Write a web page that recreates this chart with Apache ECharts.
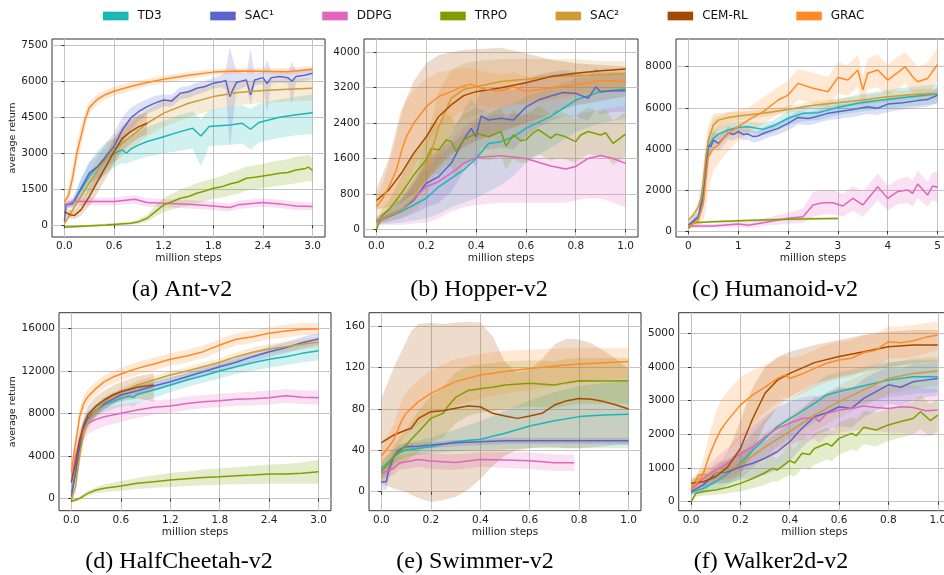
<!DOCTYPE html>
<html lang="en">
<head>
<meta charset="utf-8">
<title>Learning curves</title>
<script src="https://cdn.jsdelivr.net/npm/echarts@6.0.0/dist/echarts.min.js"></script>
<style>
    html, body { margin: 0; padding: 0; background: #fff; }
    #main { width: 944px; height: 575px; }
</style>
</head>
<body>
<div id="main"></div>
<script>
// algorithms, in legend order
var names = ['TD3', 'SAC\u00b9', 'DDPG', 'TRPO', 'SAC\u00b2', 'CEM-RL', 'GRAC'];
var colors = ['#1ab7b4', '#5b64cb', '#e066be', '#7f9f00', '#d09a35', '#a34b00', '#ff8a26'];

// rows: [million steps, mean return, lower band, upper band]
// ---- (a) Ant-v2
var antTD3 = [[0,850,780,920],[0.1,920,750,1100],[0.2,1470,1000,1950],[0.3,2030,1400,2650],[0.4,2440,1800,3100],[0.5,2790,2150,3450],[0.6,3000,2400,3600],[0.7,3140,2600,3700],[0.75,3000,2550,3500],[0.8,3170,2650,3700],[0.9,3350,2750,3900],[1.0,3490,2850,4100],[1.2,3690,3000,4350],[1.4,3900,3100,4600],[1.55,4040,3200,4750],[1.65,3720,2450,4400],[1.75,4110,3300,4800],[2.0,4180,3350,4950],[2.15,4250,3400,5000],[2.25,4000,3150,4850],[2.35,4280,3450,5050],[2.6,4500,3650,5250],[2.8,4600,3750,5350],[3.0,4690,3800,5450]];
var antSAC1 = [[0,150,50,300],[0.02,830,700,950],[0.1,900,750,1050],[0.2,1540,1200,1900],[0.3,2170,1750,2600],[0.4,2440,1950,2950],[0.5,2860,2350,3400],[0.6,3280,2700,3850],[0.7,3970,3400,4500],[0.8,4460,3950,4900],[0.9,4740,4350,5100],[1.0,4945,4650,5250],[1.1,5100,4800,5400],[1.2,5220,4950,5450],[1.3,5180,4950,5450],[1.4,5500,5250,5750],[1.5,5560,5300,5800],[1.6,5710,5450,5950],[1.7,5780,5550,6000],[1.8,5920,5700,6150],[1.9,5980,5750,6250],[1.95,6030,5650,6500],[2.0,5360,3200,7400],[2.03,5600,4200,7000],[2.08,5950,5600,6400],[2.2,6056,5800,6300],[2.25,5430,5000,7350],[2.3,6050,5800,6300],[2.4,6150,5900,6400],[2.45,5900,4700,6900],[2.5,6150,5900,6400],[2.6,6200,5950,6450],[2.7,6150,5900,6400],[2.75,6000,5050,6800],[2.8,6200,5950,6450],[2.9,6250,6000,6500],[3.0,6330,6100,6550]];
var antDDPG = [[0,780,600,950],[0.1,990,800,1150],[0.3,990,830,1150],[0.6,990,820,1160],[0.85,1080,900,1250],[1.0,945,770,1120],[1.2,920,750,1090],[1.5,875,700,1050],[1.8,805,630,980],[2.0,740,570,910],[2.1,850,680,1020],[2.4,945,770,1120],[2.6,890,720,1060],[2.8,805,630,980],[3.0,780,620,950]];
var antTRPO = [[0,-80,-130,-30],[0.5,15,-40,70],[0.8,80,20,140],[0.9,150,60,250],[1.0,290,150,450],[1.1,570,350,800],[1.2,850,550,1150],[1.3,980,650,1300],[1.4,1125,750,1500],[1.5,1200,800,1600],[1.6,1330,900,1750],[1.7,1430,1000,1850],[1.8,1540,1100,1950],[1.9,1600,1150,2050],[2.0,1720,1250,2200],[2.1,1800,1300,2300],[2.2,1960,1450,2450],[2.3,2000,1500,2500],[2.4,2050,1550,2550],[2.5,2100,1600,2650],[2.6,2170,1650,2700],[2.7,2200,1700,2750],[2.8,2300,1750,2850],[2.9,2350,1800,2900],[2.95,2420,1850,2950],[3.0,2280,1800,2800]];
var antSAC2 = [[0,80,0,200],[0.1,640,400,900],[0.2,1190,850,1550],[0.3,1750,1300,2200],[0.4,2300,1800,2800],[0.5,2720,2200,3250],[0.6,3140,2600,3700],[0.8,3690,3150,4250],[1.0,4250,3700,4800],[1.2,4670,4100,5200],[1.5,5080,4500,5600],[1.8,5360,4800,5850],[2.1,5530,5000,6000],[2.4,5610,5100,6050],[2.7,5670,5150,6100],[3.0,5710,5200,6150]];
var antCEM = [[0,570,400,750],[0.06,450,300,650],[0.12,400,250,600],[0.2,640,400,900],[0.3,1190,800,1600],[0.4,1820,1350,2300],[0.5,2440,1950,2950],[0.6,3070,2550,3600],[0.7,3620,3100,4150],[0.8,3900,3400,4400],[0.9,4110,3650,4600],[1.0,4250,3800,4700]];
var antGRAC = [[0,950,800,1100],[0.05,1250,950,1600],[0.1,2000,1600,2450],[0.15,3000,2550,3450],[0.2,3700,3250,4150],[0.25,4400,4050,4750],[0.3,4900,4650,5150],[0.4,5250,5050,5450],[0.5,5450,5250,5650],[0.6,5580,5380,5780],[0.8,5780,5600,5960],[1.0,5950,5800,6100],[1.2,6080,5930,6230],[1.5,6250,6100,6400],[1.8,6380,6260,6500],[2.1,6430,6310,6550],[2.4,6420,6300,6540],[2.7,6400,6250,6550],[3.0,6500,6380,6620]];

// ---- (b) Hopper-v2
var hopTD3 = [[0,170,100,250],[0.1,400,150,700],[0.2,700,250,1400],[0.25,960,350,1650],[0.3,1150,500,1900],[0.35,1340,600,2150],[0.4,1600,700,2400],[0.45,1940,850,2600],[0.5,1980,1000,2750],[0.55,2090,1200,2850],[0.6,2280,1500,3000],[0.7,2550,1850,3200],[0.8,2920,2200,3400],[0.9,3110,2400,3500],[1.0,3170,2500,3550]];
var hopSAC1 = [[0,200,120,280],[0.1,440,250,650],[0.15,660,350,1000],[0.2,1040,500,1600],[0.25,1190,600,1800],[0.3,1490,850,2150],[0.35,2020,1300,2700],[0.38,2280,1550,2950],[0.4,2090,1400,2800],[0.42,2560,1850,3200],[0.45,2470,1800,3150],[0.5,2510,1850,3200],[0.55,2470,1800,3150],[0.6,2760,2100,3350],[0.65,2920,2300,3500],[0.7,3010,2450,3550],[0.75,3090,2550,3600],[0.8,3070,2550,3550],[0.85,2960,2450,3450],[0.88,3220,2700,3650],[0.9,3110,2600,3550],[0.95,3130,2650,3550],[1.0,3130,2650,3550]];
var hopDDPG = [[0,170,100,250],[0.1,440,100,750],[0.2,960,150,1500],[0.25,1080,250,1750],[0.3,1270,400,2000],[0.35,1490,500,2300],[0.4,1620,550,2500],[0.5,1660,600,2600],[0.6,1600,600,2600],[0.7,1430,600,2550],[0.76,1360,600,2550],[0.8,1420,650,2600],[0.85,1600,700,2650],[0.9,1665,700,2700],[0.95,1600,600,2750],[1.0,1490,500,2800]];
var hopTRPO = [[0,0,-50,50],[0.02,290,150,450],[0.05,440,250,650],[0.1,810,450,1200],[0.15,1230,750,1700],[0.2,1570,1050,2100],[0.22,1830,1250,2400],[0.25,1790,1250,2350],[0.28,2020,1450,2600],[0.3,1980,1400,2550],[0.32,1760,1200,2350],[0.35,2020,1450,2600],[0.4,2170,1600,2750],[0.45,2090,1550,2650],[0.5,2210,1650,2750],[0.52,1880,1350,2450],[0.55,2130,1600,2700],[0.58,2000,1500,2550],[0.6,2020,1500,2600],[0.63,2180,1650,2700],[0.65,2250,1700,2800],[0.7,2060,1550,2600],[0.72,2150,1600,2700],[0.75,2110,1600,2650],[0.8,1980,1500,2500],[0.82,2130,1600,2650],[0.85,2210,1700,2750],[0.9,2130,1650,2650],[0.92,2180,1650,2700],[0.95,1940,1450,2450],[1.0,2150,1650,2650]];
var hopSAC2 = [[0,200,100,300],[0.1,440,250,650],[0.15,700,400,1100],[0.2,1340,700,2000],[0.25,2320,1500,3100],[0.3,2960,2200,3600],[0.35,3160,2500,3750],[0.4,3220,2600,3800],[0.5,3340,2750,3850],[0.6,3390,2850,3850],[0.7,3450,2950,3850],[0.8,3470,3050,3850],[0.9,3490,3100,3800],[1.0,3510,3150,3800]];
var hopCEM = [[0,650,450,900],[0.05,890,500,1600],[0.1,1265,600,2700],[0.15,1720,800,3350],[0.2,2090,1100,3750],[0.25,2550,1400,3940],[0.3,2810,1700,4000],[0.35,3020,1850,4050],[0.4,3110,2000,4070],[0.5,3200,2200,4100],[0.6,3310,2400,3980],[0.7,3450,2600,3830],[0.8,3525,2800,3750],[0.9,3580,2900,3710],[1.0,3620,3000,3680]];
var hopGRAC = [[0,510,300,700],[0.03,740,400,1100],[0.05,960,450,1500],[0.08,1340,600,2100],[0.1,1755,800,2600],[0.12,2090,1000,2900],[0.15,2400,1400,3150],[0.2,2770,1900,3400],[0.25,3000,2300,3550],[0.3,3110,2500,3600],[0.35,3240,2700,3650],[0.38,3280,2800,3650],[0.4,3220,2800,3600],[0.45,3150,2750,3550],[0.5,3130,2750,3500],[0.55,3220,2850,3550],[0.6,3120,2800,3450],[0.7,3190,2900,3500],[0.8,3260,3000,3550],[0.9,3360,3100,3600],[1.0,3340,3100,3600]];

// ---- (c) Humanoid-v2
var humTD3 = [[0,210,100,300],[0.2,700,450,950],[0.3,2000,1300,2700],[0.35,3130,2400,3850],[0.4,4100,3500,4600],[0.5,4510,4100,4900],[0.6,4720,4400,5050],[0.8,4920,4600,5250],[1.0,5050,4750,5350],[1.2,5080,4800,5350],[1.5,4950,4650,5250],[1.7,5110,4800,5400],[2.0,5490,5150,5850],[2.3,5730,5350,6100],[2.6,5760,5400,6150],[3.0,6020,5650,6400],[3.4,6220,5800,6650],[3.8,6350,5900,6800],[4.2,6460,6000,6950],[4.6,6570,6100,7050],[5.0,6670,6200,7150]];
var humSAC1 = [[0,290,150,400],[0.2,700,450,950],[0.3,1670,1100,2300],[0.35,2970,2300,3650],[0.4,4190,3700,4650],[0.45,4100,3650,4550],[0.5,4430,4000,4850],[0.6,4270,3900,4650],[0.7,4510,4150,4850],[0.8,4790,4450,5100],[0.9,4700,4400,5000],[1.0,4840,4550,5150],[1.1,4700,4400,5000],[1.2,4720,4450,5000],[1.3,4600,4300,4900],[1.4,4630,4350,4900],[1.5,4750,4450,5050],[1.6,4840,4550,5150],[1.8,5000,4700,5300],[2.0,5240,4900,5550],[2.2,5530,5200,5850],[2.4,5480,5150,5800],[2.5,5530,5200,5850],[2.8,5730,5400,6050],[3.0,5810,5450,6150],[3.3,5920,5550,6250],[3.6,6050,5700,6400],[3.8,5980,5650,6300],[4.0,6180,5800,6500],[4.3,6250,5900,6600],[4.6,6350,6000,6700],[4.8,6400,6050,6750],[5.0,6620,6250,6950]];
var humDDPG = [[0,240,150,330],[0.5,240,150,330],[1.0,340,200,480],[1.2,280,150,420],[1.5,400,250,600],[2.0,620,350,900],[2.3,700,400,1100],[2.5,1270,700,1900],[2.7,1380,800,2000],[2.9,1380,800,2000],[3.1,1220,700,1800],[3.3,1590,1000,2200],[3.5,1270,700,1900],[3.8,2160,1500,2800],[4.0,1590,1000,2200],[4.2,1920,1300,2500],[4.4,2000,1350,2650],[4.5,1830,1200,2450],[4.6,2290,1600,2950],[4.8,1750,1200,2400],[4.9,2190,1500,2850],[5.0,2130,1400,2900]];
var humTRPO = [[0,130,80,180],[0.1,400,340,460],[0.5,450,390,510],[1.0,500,440,560],[1.5,535,475,595],[2.0,570,510,630],[2.5,600,540,660],[3.0,615,555,675]];
var humSAC2 = [[0,535,400,650],[0.1,780,600,950],[0.2,1180,900,1500],[0.25,1590,1100,2100],[0.3,2480,1700,3300],[0.35,3620,2700,4500],[0.4,4430,3600,5200],[0.5,5160,4600,5700],[0.6,5400,5000,5750],[0.8,5530,5250,5800],[1.0,5600,5400,5800],[1.5,5730,5550,5900],[2.0,5920,5750,6100],[2.5,6130,5950,6300],[3.0,6250,6050,6450],[3.5,6380,6150,6600],[4.0,6540,6300,6780],[4.5,6650,6400,6900],[5.0,6700,6450,6950]];
var humGRAC = [[0,210,100,350],[0.2,535,300,800],[0.3,1350,500,2300],[0.35,2480,1000,3700],[0.4,3620,2000,4800],[0.5,4030,2900,5500],[0.6,4190,3300,5600],[0.7,4510,3600,5700],[0.8,4760,3900,5800],[1.0,5080,4400,5900],[1.2,5400,4800,6000],[1.5,5810,5200,6500],[1.8,6380,5700,7000],[2.0,6620,5900,7300],[2.2,7190,6400,7900],[2.5,6950,6200,7700],[2.8,6780,6000,7500],[3.0,7480,6700,8200],[3.2,7350,6600,8100],[3.4,7840,7000,8600],[3.5,6870,6100,7600],[3.6,7680,6900,8400],[3.8,7840,7000,8600],[4.0,7350,6600,8100],[4.2,7710,6900,8500],[4.35,8000,7200,8700],[4.5,7510,6700,8300],[4.6,7270,6500,8000],[4.8,7430,6600,8200],[5.0,8110,7300,8900]];

// ---- (d) HalfCheetah-v2
var hcTD3 = [[0,560,200,900],[0.05,2380,1700,3100],[0.1,4730,3950,5500],[0.15,6450,5700,7200],[0.2,7390,6700,8100],[0.3,8270,7650,8900],[0.4,8800,8150,9450],[0.5,9110,8400,9800],[0.6,9420,8650,10200],[0.7,9640,8800,10450],[0.75,9490,8650,10300],[0.8,9800,8950,10600],[1.0,10210,9450,10950],[1.2,10680,10000,11350],[1.4,11150,10500,11800],[1.6,11550,10900,12200],[1.8,11990,11300,12650],[2.0,12400,11700,13100],[2.2,12770,12000,13500],[2.4,13090,12300,13850],[2.6,13340,12550,14150],[2.8,13650,12800,14450],[3.0,13900,13000,14700]];
var hcSAC1 = [[0,190,-200,600],[0.05,2380,1700,3100],[0.1,4880,4100,5650],[0.15,6760,6000,7500],[0.2,7550,6900,8200],[0.3,8330,7800,8850],[0.4,8950,8450,9450],[0.5,9330,8850,9800],[0.6,9740,9250,10200],[0.8,10140,9700,10600],[1.0,10580,10150,11000],[1.2,10990,10550,11400],[1.4,11460,11050,11850],[1.6,11930,11500,12350],[1.8,12400,11950,12850],[2.0,12810,12350,13250],[2.2,13340,12850,13800],[2.4,13810,13300,14300],[2.6,14180,13650,14700],[2.8,14650,14100,15200],[3.0,15000,14450,15550]];
var hcDDPG = [[0,1600,1000,2200],[0.05,3950,3100,4800],[0.1,5510,4600,6400],[0.15,6450,5500,7400],[0.2,7080,6100,8050],[0.3,7450,6500,8400],[0.4,7700,6800,8600],[0.6,8020,7200,8850],[0.8,8330,7600,9050],[1.0,8580,7900,9250],[1.2,8700,8050,9350],[1.4,8950,8300,9600],[1.6,9110,8500,9750],[1.8,9210,8600,9850],[2.0,9330,8700,9950],[2.2,9390,8750,10050],[2.4,9490,8850,10150],[2.6,9670,9000,10300],[2.8,9520,8900,10150],[3.0,9490,8850,10150]];
var hcTRPO = [[0,-250,-400,-100],[0.05,-130,-300,50],[0.1,30,-150,200],[0.2,500,250,750],[0.3,810,500,1100],[0.4,970,600,1350],[0.6,1190,750,1650],[0.8,1440,900,1950],[1.0,1600,1000,2200],[1.2,1750,1100,2400],[1.4,1880,1200,2550],[1.6,2000,1250,2750],[1.8,2070,1300,2850],[2.0,2160,1350,2950],[2.2,2220,1350,3100],[2.4,2320,1400,3200],[2.6,2320,1400,3250],[2.8,2380,1400,3400],[3.0,2540,1400,3650]];
var hcSAC2 = [[0,-130,-400,150],[0.05,1130,500,1800],[0.1,3950,3200,4700],[0.15,6140,5400,6900],[0.2,7230,6600,7900],[0.3,8330,7800,8850],[0.4,9110,8650,9550],[0.5,9580,9150,10000],[0.6,9960,9550,10350],[0.8,10680,10300,11050],[1.0,11150,10800,11500],[1.2,11620,11250,12000],[1.4,11990,11600,12350],[1.6,12400,12000,12800],[1.8,12810,12400,13200],[2.0,13340,12900,13750],[2.2,13750,13300,14200],[2.4,14060,13600,14500],[2.6,14280,13800,14750],[2.8,14500,14000,15000],[3.0,14720,14200,15200]];
var hcCEM = [[0,1500,900,2100],[0.05,3320,2500,4100],[0.1,5510,4700,6300],[0.15,6920,6100,7700],[0.2,7860,7000,8700],[0.3,8700,7800,9600],[0.4,9270,8400,10150],[0.5,9740,8850,10600],[0.6,10050,9150,10950],[0.8,10460,9400,11500],[1.0,10680,9100,11800]];
var hcGRAC = [[0,2440,1800,3100],[0.05,5200,4400,6000],[0.08,6600,5800,7400],[0.1,7700,6900,8500],[0.15,8950,8200,9700],[0.2,9580,8900,10300],[0.3,10360,9700,11000],[0.4,10990,10400,11600],[0.5,11400,10800,12000],[0.6,11710,11100,12300],[0.8,12240,11650,12850],[1.0,12650,12050,13250],[1.2,13090,12500,13650],[1.4,13400,12800,14000],[1.6,13810,13200,14400],[1.8,14430,13850,15000],[2.0,14970,14400,15550],[2.2,15220,14650,15800],[2.4,15530,14950,16100],[2.6,15750,15150,16350],[2.8,15910,15350,16500],[3.0,15940,15400,16500]];

// ---- (e) Swimmer-v2
var swTD3 = [[0,22.5,15,30],[0.05,33.8,27,41],[0.08,38.6,32,45],[0.1,40.3,34,47],[0.2,43.5,37,52],[0.3,48.3,39,60],[0.4,50.6,40,68],[0.5,56.4,41,78],[0.6,63.4,42,88],[0.7,68.6,42,96],[0.8,72.5,42,102],[0.9,74,42,105],[1.0,74.7,42,107]];
var swSAC1 = [[0,9.7,2,18],[0.02,9.7,2,20],[0.03,21,12,30],[0.05,33.8,27,40],[0.07,40.3,36,45],[0.1,43.5,40,47],[0.15,44,41,47],[0.2,45,42,48],[0.3,47.3,44,50],[0.4,48.3,45,51],[0.5,49.3,46,52],[0.7,49.3,46,52],[1.0,49.3,46,52]];
var swDDPG = [[0,17.7,12,24],[0.03,21,15,27],[0.05,22.5,16,29],[0.07,27.4,21,34],[0.1,29,22,36],[0.15,31.2,24,38],[0.2,29.6,22,37],[0.3,28.3,21,36],[0.4,31.2,24,38],[0.5,30.6,23,38],[0.6,30,22,38],[0.7,28,20,36],[0.78,28,20,36]];
var swTRPO = [[0,19.3,12,27],[0.03,27.4,18,37],[0.05,33.8,22,45],[0.08,40.3,27,54],[0.1,45,30,60],[0.15,58,38,78],[0.2,70.8,48,93],[0.25,75.7,52,100],[0.27,82.7,58,107],[0.3,91,66,115],[0.35,97.6,73,121],[0.4,99.5,76,123],[0.45,100.8,78,124],[0.5,103,80,126],[0.6,104.7,82,127],[0.7,103,81,126],[0.75,105.3,83,128],[0.8,107.2,85,129],[0.9,107,85,129],[1.0,107.2,85,129]];
var swCEM = [[0,47.3,8,90],[0.05,54.7,3,120],[0.1,59.6,0,145],[0.12,61,-3,155],[0.15,70.8,-6,162],[0.2,77.3,-10,163],[0.25,78.2,-8,162],[0.3,80.5,-5,163],[0.35,82.7,2,164],[0.4,82,12,163],[0.45,75.7,25,150],[0.5,73,35,125],[0.55,70.8,40,115],[0.6,73,42,118],[0.65,75.7,43,128],[0.7,83.7,43,142],[0.75,87.9,42,148],[0.8,90,42,147],[0.85,89.2,43,143],[0.9,87,44,136],[0.95,83.7,45,128],[1.0,79.8,45,118]];
var swGRAC = [[0,34.5,22,47],[0.03,43.5,30,57],[0.05,50,35,65],[0.06,56,40,72],[0.08,67.6,48,87],[0.1,75.7,55,96],[0.15,87,65,108],[0.2,95,72,117],[0.25,100.8,78,123],[0.3,106.3,83,128],[0.4,112.7,90,133],[0.5,116,95,136],[0.6,119,98,137],[0.7,121.4,102,138],[0.8,123.3,105,139],[0.9,124.6,108,139],[1.0,125.6,110,139]];

// ---- (f) Walker2d-v2
var wkTD3 = [[0,270,200,350],[0.05,400,250,550],[0.1,594,350,850],[0.15,840,500,1200],[0.2,1140,700,1600],[0.25,1530,1000,2050],[0.3,1880,1300,2450],[0.35,2230,1650,2800],[0.4,2470,1900,3050],[0.5,2920,2350,3500],[0.55,3170,2600,3750],[0.6,3270,2700,3850],[0.7,3440,2900,4000],[0.8,3610,3100,4150],[0.9,3710,3200,4200],[1.0,3710,3250,4200]];
var wkSAC1 = [[0,300,200,400],[0.05,500,300,700],[0.1,840,550,1150],[0.15,890,550,1250],[0.2,1040,650,1450],[0.25,1140,700,1600],[0.3,1290,800,1800],[0.35,1490,950,2050],[0.4,1780,1200,2350],[0.45,2180,1600,2750],[0.5,2520,1950,3100],[0.55,2640,2100,3200],[0.6,2820,2250,3400],[0.65,2770,2200,3350],[0.7,3070,2500,3650],[0.75,3270,2700,3850],[0.8,3470,2900,4000],[0.85,3400,2850,3950],[0.9,3560,3000,4100],[0.95,3610,3100,4100],[1.0,3660,3150,4150]];
var wkDDPG = [[0,350,250,450],[0.05,690,450,950],[0.1,940,600,1300],[0.15,1140,700,1600],[0.2,1440,900,2000],[0.25,1630,1050,2250],[0.3,1930,1300,2550],[0.35,2180,1550,2800],[0.4,2330,1700,2950],[0.45,2470,1850,3100],[0.5,2500,1850,3150],[0.52,2380,1750,3050],[0.55,2620,1950,3250],[0.6,2720,2050,3350],[0.65,2770,2100,3400],[0.7,2840,2150,3450],[0.75,2800,2100,3450],[0.8,2770,2050,3400],[0.85,2820,2050,3450],[0.9,2800,2000,3450],[0.95,2700,1950,3350],[1.0,2720,2000,3350]];
var wkTRPO = [[0,0,-50,50],[0.02,250,150,350],[0.05,300,180,420],[0.1,350,200,500],[0.15,430,250,620],[0.2,545,300,800],[0.25,690,400,980],[0.3,860,500,1200],[0.33,990,600,1350],[0.35,940,600,1300],[0.4,1220,800,1650],[0.42,1150,750,1600],[0.45,1440,1000,1900],[0.48,1400,950,1850],[0.5,1580,1100,2050],[0.55,1730,1250,2200],[0.57,1650,1200,2100],[0.6,1880,1400,2350],[0.65,2030,1550,2500],[0.67,1960,1500,2450],[0.7,2210,1700,2700],[0.75,2130,1650,2650],[0.8,2280,1800,2750],[0.85,2380,1900,2850],[0.9,2470,2000,2950],[0.93,2670,2150,3150],[0.97,2410,1950,2900],[1.0,2570,2100,3050]];
var wkSAC2 = [[0,350,250,450],[0.03,790,600,950],[0.1,820,600,1050],[0.15,940,650,1250],[0.2,1090,750,1450],[0.3,1630,1200,2050],[0.4,2080,1600,2550],[0.5,2570,2100,3050],[0.6,2970,2500,3450],[0.7,3320,2850,3800],[0.8,3660,3200,4100],[0.9,3810,3350,4250],[1.0,3880,3450,4300]];
var wkCEM = [[0,545,400,700],[0.05,594,450,750],[0.1,740,500,1000],[0.15,1040,600,1500],[0.2,1580,800,2400],[0.25,2470,1500,3400],[0.3,3220,2300,4000],[0.35,3610,2800,4300],[0.4,3810,3100,4450],[0.5,4130,3500,4650],[0.6,4310,3700,4800],[0.7,4450,3850,4950],[0.8,4600,4000,5050],[0.9,4650,4100,5100],[1.0,4650,4150,5100]];
var wkGRAC = [[0,445,250,650],[0.03,594,350,850],[0.05,840,450,1250],[0.07,1290,700,1900],[0.1,1830,1000,2650],[0.12,2130,1200,3000],[0.15,2430,1500,3300],[0.2,2870,1900,3700],[0.25,3170,2300,3900],[0.3,3400,2650,4050],[0.35,3660,2950,4250],[0.38,3760,3100,4350],[0.4,3660,3050,4250],[0.45,3790,3200,4350],[0.5,3960,3400,4500],[0.55,4110,3550,4650],[0.6,4210,3650,4750],[0.65,4260,3700,4800],[0.7,4430,3900,4950],[0.75,4500,4000,5000],[0.8,4750,4250,5200],[0.85,4720,4250,5200],[0.9,4780,4300,5250],[0.95,4880,4400,5300],[1.0,4950,4500,5350]];

// tick labels
var ticks3 = [0, 0.6, 1.2, 1.8, 2.4, 3.0];
var ticks1 = [0, 0.2, 0.4, 0.6, 0.8, 1.0];
var ticks5 = [0, 1, 2, 3, 4, 5];
var antY = [0, 1500, 3000, 4500, 6000, 7500];
var hopY = [0, 800, 1600, 2400, 3200, 4000];
var humY = [0, 2000, 4000, 6000, 8000];
var hcY = [0, 4000, 8000, 12000, 16000];
var swY = [0, 40, 80, 120, 160];
var wkY = [0, 1000, 2000, 3000, 4000, 5000];

var panels = [
    { title: '(a) Ant-v2', runs: [antTD3, antSAC1, antDDPG, antTRPO, antSAC2, antCEM, antGRAC], xt: ticks3, yt: antY,
      box: [52, 39, 273, 198], x: [-0.15, 3.15], y: [-490, 7760], cap: [182, 290], yName: 33 },
    { title: '(b) Hopper-v2', runs: [hopTD3, hopSAC1, hopDDPG, hopTRPO, hopSAC2, hopCEM, hopGRAC], xt: ticks1, yt: hopY,
      box: [364, 39, 274, 198], x: [-0.05, 1.05], y: [-175, 4300], cap: [479, 290] },
    { title: '(c) Humanoid-v2', runs: [humTD3, humSAC1, humDDPG, humTRPO, humSAC2, null, humGRAC], xt: ticks5, yt: humY,
      box: [676, 39, 274, 198], x: [-0.25, 5.25], y: [-290, 9350], cap: [775, 290], intX: true },
    { title: '(d) HalfCheetah-v2', runs: [hcTD3, hcSAC1, hcDDPG, hcTRPO, hcSAC2, hcCEM, hcGRAC], xt: ticks3, yt: hcY,
      box: [59, 312.7, 272, 198], x: [-0.15, 3.15], y: [-1130, 17470], cap: [179, 562], yName: 40 },
    { title: '(e) Swimmer-v2', runs: [swTD3, swSAC1, swDDPG, swTRPO, null, swCEM, swGRAC], xt: ticks1, yt: swY,
      box: [369, 312.7, 272, 198], x: [-0.05, 1.05], y: [-18.3, 172.8], cap: [475, 562] },
    { title: '(f) Walker2d-v2', runs: [wkTD3, wkSAC1, wkDDPG, wkTRPO, wkSAC2, wkCEM, wkGRAC], xt: ticks1, yt: wkY,
      box: [678.7, 312.7, 271.4, 198], x: [-0.05, 1.05], y: [-267, 5612], cap: [771, 562] }
];

function rgba(hex, a) {
    var n = parseInt(hex.slice(1), 16);
    return 'rgba(' + (n >> 16) + ',' + ((n >> 8) & 255) + ',' + (n & 255) + ',' + a + ')';
}

var font = 'DejaVu Sans';
var grids = [], xAxes = [], yAxes = [], series = [], graphics = [];

panels.forEach(function (p, gi) {
    grids.push({
        left: p.box[0], top: p.box[1], width: p.box[2], height: p.box[3],
        show: true, borderColor: '#333', borderWidth: 1, backgroundColor: 'transparent',
        outerBoundsMode: 'none', containLabel: false
    });
    xAxes.push({
        type: 'value', gridIndex: gi, min: p.x[0], max: p.x[1],
        name: 'million steps', nameLocation: 'middle', nameGap: 15,
        nameTextStyle: { fontFamily: font, fontSize: 10.5, color: '#222' },
        axisLine: { show: false },
        axisTick: { show: true, length: 3, customValues: p.xt, lineStyle: { color: '#333' } },
        axisLabel: {
            customValues: p.xt, margin: 4, fontFamily: font, fontSize: 10.5, color: '#222',
            formatter: function (v) { return p.intX ? String(Math.round(v)) : v.toFixed(1); }
        },
        splitLine: { show: true, lineStyle: { color: '#c4c4c4', width: 1 } }
    });
    yAxes.push({
        type: 'value', gridIndex: gi, min: p.y[0], max: p.y[1],
        name: p.yName ? 'average return' : '', nameLocation: 'middle', nameGap: p.yName || 0,
        nameTextStyle: { fontFamily: font, fontSize: 9.5, color: '#222' },
        axisLine: { show: false },
        axisTick: { show: true, length: 3, customValues: p.yt, lineStyle: { color: '#333' } },
        axisLabel: {
            customValues: p.yt, margin: 4, fontFamily: font, fontSize: 10.5, color: '#222',
            formatter: function (v) { return String(v); }
        },
        splitLine: { show: true, lineStyle: { color: '#c4c4c4', width: 1 } }
    });
    p.runs.forEach(function (rows, k) {
        if (!rows) return;
        series.push({
            type: 'custom', name: names[k], xAxisIndex: gi, yAxisIndex: gi, z: 1, silent: true, clip: true,
            data: [[rows[0][0], rows[0][1]]],
            renderItem: function (params, api) {
                var top = rows.map(function (r) { return api.coord([r[0], r[3]]); });
                var bot = rows.map(function (r) { return api.coord([r[0], r[2]]); }).reverse();
                return { type: 'polygon', shape: { points: top.concat(bot) }, style: { fill: rgba(colors[k], 0.2) } };
            }
        });
    });
    p.runs.forEach(function (rows, k) {
        if (!rows) return;
        series.push({
            type: 'line', name: names[k], xAxisIndex: gi, yAxisIndex: gi, z: 3,
            showSymbol: false, symbol: 'none', silent: true,
            lineStyle: { color: colors[k], width: 1.5 }, itemStyle: { color: colors[k] },
            data: rows.map(function (r) { return [r[0], r[1]]; })
        });
    });
    graphics.push({
        type: 'text', x: p.cap[0], y: p.cap[1],
        style: { text: p.title, fontFamily: 'Liberation Serif', fontSize: 24, fill: '#000', align: 'center', verticalAlign: 'middle' }
    });
});

var myChart = echarts.init(document.getElementById('main'));
myChart.setOption({
    animation: false,
    backgroundColor: '#fff',
    legend: {
        left: 98, top: 5, icon: 'rect', itemWidth: 25.5, itemHeight: 8.7, itemGap: 48.5,
        textStyle: { fontFamily: font, fontSize: 12, color: '#111', padding: [0, 0, 0, 4] },
        data: names.map(function (n, i) { return { name: n, itemStyle: { color: colors[i] } }; })
    },
    grid: grids,
    xAxis: xAxes,
    yAxis: yAxes,
    series: series,
    graphic: graphics
});
</script>
</body>
</html>
